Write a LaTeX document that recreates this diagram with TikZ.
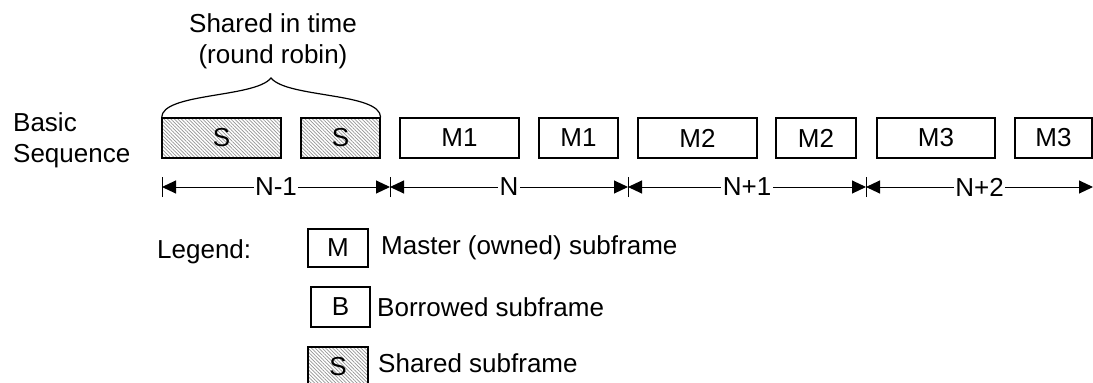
\documentclass[tikz,border=0pt]{standalone}
\usepackage{fontspec}
\setmainfont{Liberation Sans}
\usetikzlibrary{patterns.meta,arrows.meta}
\tikzset{
  frame/.style={draw, line width=1.2pt, minimum height=40pt, inner sep=0pt},
  shared/.style={frame, pattern={Lines[angle=-45,distance=2.5pt,line width=0.7pt]}, pattern color=black!42},
  dimline/.style={line width=1pt, {Triangle[length=14pt,width=13pt]}-{Triangle[length=14pt,width=13pt]}},
  dimlab/.style={fill=white, inner sep=1.5pt},
  tick/.style={line width=1pt},
  plain/.style={inner sep=0pt},
}
\begin{document}
\begin{tikzpicture}[x=1pt,y=-1pt,font=\fontsize{26}{31}\selectfont]
\useasboundingbox (0,0) rectangle (1093,383);
% labels
\node[plain, align=left, anchor=west] (bs) at (13,140) {Basic\\Sequence};
\node[plain, align=center] (top) at (273,41) {Shared in time\\(round robin)};
% boxes
\node[shared, minimum width=119pt] (s1) at (221.5,138) {S};
\node[shared, minimum width=79pt] (s2) at (340.5,138) {S};
\node[frame, minimum width=119pt] (m1a) at (459.5,138) {M1};
\node[frame, minimum width=79pt] (m1b) at (578.5,138) {M1};
\node[frame, minimum width=119pt] (m2a) at (697.5,138) {M2};
\node[frame, minimum width=80pt] (m2b) at (816,138) {M2};
\node[frame, minimum width=118pt] (m3a) at (936,138) {M3};
\node[frame, minimum width=77pt] (m3b) at (1053.5,138) {M3};
% brace
\coordinate (tip) at (271,78);
\draw[line width=1.2pt] (s1.north west) .. controls +(0,-25) and +(-16,20) .. (tip)
  .. controls +(16,20) and +(0,-25) .. (s2.north east);
% dimension line
\coordinate (t0) at (162,187);
\coordinate (t1) at (390,187);
\coordinate (t2) at (628,187);
\coordinate (t3) at (866,187);
\coordinate (t4) at (1093,187);
\foreach \t in {t0,t1,t2,t3}{\draw[tick] ([yshift=-10pt]\t) -- ([yshift=10pt]\t);}
\draw[dimline] (t0) -- node[dimlab] {N-1} (t1);
\draw[dimline] (t1) -- node[dimlab] {N} (t2);
\draw[dimline] (t2) -- node[dimlab] {N+1} (t3);
\draw[dimline] (t3) -- node[dimlab] {N+2} (t4);
% legend
\node[plain, anchor=west] (leg) at (157,252) {Legend:};
\node[frame, minimum width=60pt, minimum height=38pt] (lm) at (338,248) {M};
\node[frame, minimum width=59pt] (lb) at (340.5,307) {B};
\node[shared, minimum width=60pt] (ls) at (338,367) {S};
\node[plain, anchor=west] (lmt) at (381,248) {Master (owned) subframe};
\node[plain, anchor=west] (lbt) at (377,307) {Borrowed subframe};
\node[plain, anchor=west] (lst) at (378,363) {Shared subframe};
\end{tikzpicture}
\end{document}
